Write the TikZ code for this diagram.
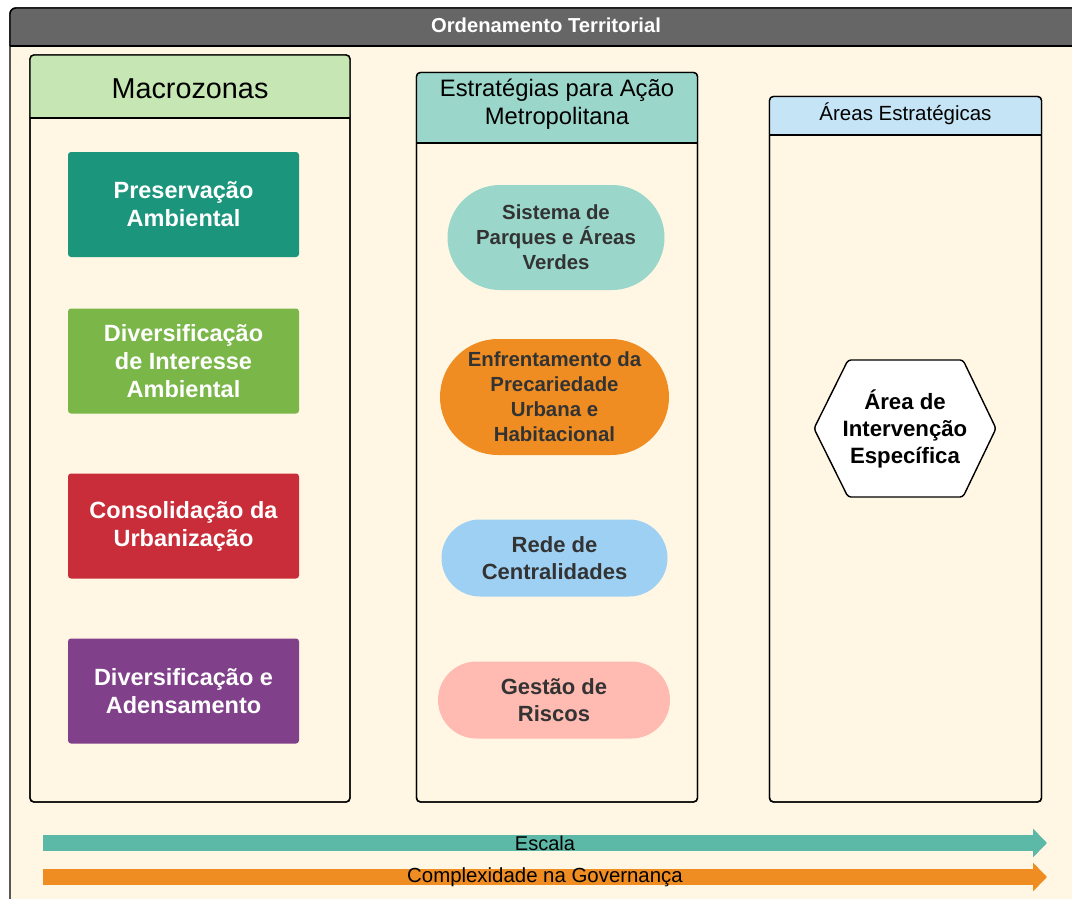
\documentclass[tikz,border=0pt]{standalone}
\usepackage{fontspec}
\setmainfont{Liberation Sans}
\usetikzlibrary{arrows.meta, shapes.misc}

\definecolor{cream}{HTML}{FFF7E3}
\definecolor{titlegray}{HTML}{666666}
\definecolor{headgreen}{HTML}{C6E7B3}
\definecolor{headteal}{HTML}{9BD6CB}
\definecolor{headblue}{HTML}{C5E4F6}
\definecolor{zoneteal}{HTML}{1B957C}
\definecolor{zonelime}{HTML}{7AB648}
\definecolor{zonered}{HTML}{C92D39}
\definecolor{zonepurple}{HTML}{80408A}
\definecolor{stratteal}{HTML}{9BD6CB}
\definecolor{stratorange}{HTML}{EF8D22}
\definecolor{stratblue}{HTML}{9DD0F3}
\definecolor{stratpink}{HTML}{FFBBB1}
\definecolor{arrowteal}{HTML}{5CB9A7}
\definecolor{darktext}{HTML}{333333}

\tikzset{
  colframe/.style = {draw, line width = 1.4, rounded corners = 4},
  zonebox/.style = {rectangle, rounded corners = 3, minimum width = 231,
                    minimum height = 105, text = white, align = center,
                    font = \bfseries\fontsize{23.5}{28}\selectfont},
  stratbox/.style = {rounded rectangle, text = darktext, align = center,
                     inner sep = 0, font = \bfseries\fontsize{20.4}{25}\selectfont},
  scalearrow/.style = {line width = 16, -{Triangle[length = 14, width = 28]}}
}

\begin{document}
\begin{tikzpicture}[x = 1pt, y = -1pt]
\useasboundingbox (0, 0) rectangle (1072, 899);
\fill[white] (0, 0) rectangle (1072, 899);

\draw[colframe, fill = cream, rounded corners = 6] (10, 8) rectangle (1084, 912);
\fill[titlegray, rounded corners = 6] (10, 8) rectangle (1084, 46);
\fill[titlegray] (10, 30) rectangle (1084, 46);
\draw[colframe, rounded corners = 6] (10, 46) -- (10, 8) -- (1084, 8);
\draw[line width = 1.4] (10, 46) -- (1084, 46);
\node[text = white, font = \bfseries\fontsize{20.2}{24}\selectfont] (title) at (546, 25) {Ordenamento Territorial};

\draw[colframe, fill = cream] (30, 55) rectangle (350, 802);
\fill[headgreen, rounded corners = 4] (30, 55) rectangle (350, 118);
\fill[headgreen] (30, 100) rectangle (350, 118);
\draw[colframe] (30, 55) rectangle (350, 802);
\draw[line width = 1.4] (30, 118) -- (350, 118);
\node[font = \fontsize{28.8}{34}\selectfont] (macro) at (190, 89) {Macrozonas};

\node[zonebox, fill = zoneteal] (pres) at (183.5, 204.5) {Preservação\\Ambiental};
\node[zonebox, fill = zonelime] (divint) at (183.5, 361) {Diversificação\\de Interesse\\Ambiental};
\node[zonebox, fill = zonered] (cons) at (183.5, 526) {Consolidação da\\Urbanização};
\node[zonebox, fill = zonepurple] (divad) at (183.5, 691) {Diversificação e\\Adensamento};

\draw[colframe, fill = cream] (416.5, 72.5) rectangle (697.5, 802);
\fill[headteal, rounded corners = 4] (416.5, 72.5) rectangle (697.5, 143);
\fill[headteal] (416.5, 120) rectangle (697.5, 143);
\draw[colframe] (416.5, 72.5) rectangle (697.5, 802);
\draw[line width = 1.4] (416.5, 143) -- (697.5, 143);
\node[align = center, font = \fontsize{23.8}{28}\selectfont] (estrat) at (557, 104) {Estratégias para Ação\\Metropolitana};

\node[stratbox, fill = stratteal, minimum width = 217, minimum height = 105] (parques) at (556, 237.5) {Sistema de\\Parques e Áreas\\Verdes};
\node[stratbox, fill = stratorange, minimum width = 229, minimum height = 116] (precar) at (554.5, 397) {Enfrentamento da\\Precariedade\\Urbana e\\Habitacional};
\node[stratbox, fill = stratblue, minimum width = 226, minimum height = 77, font = \bfseries\fontsize{22}{27}\selectfont] (rede) at (554.5, 558) {Rede de\\Centralidades};
\node[stratbox, fill = stratpink, minimum width = 232, minimum height = 77, font = \bfseries\fontsize{22}{27}\selectfont] (riscos) at (554, 700) {Gestão de\\Riscos};

\draw[colframe, fill = cream] (769.5, 96.5) rectangle (1041.5, 802);
\fill[headblue, rounded corners = 4] (769.5, 96.5) rectangle (1041.5, 135);
\fill[headblue] (769.5, 120) rectangle (1041.5, 135);
\draw[colframe] (769.5, 96.5) rectangle (1041.5, 802);
\draw[line width = 1.4] (769.5, 135) -- (1041.5, 135);
\node[font = \fontsize{20.5}{24}\selectfont] (areas) at (905.5, 114) {Áreas Estratégicas};

\draw[line width = 1.4, fill = white, rounded corners = 3]
  (814, 428.5) -- (848, 360) -- (963, 360) -- (996, 428.5) -- (963, 497) -- (848, 497) -- cycle;
\node[align = center, font = \bfseries\fontsize{22.2}{27}\selectfont] (aie) at (905, 428.5) {Área de\\Intervenção\\Específica};

\coordinate (escA) at (43, 843);
\coordinate (escB) at (1047, 843);
\coordinate (govA) at (43, 877);
\coordinate (govB) at (1047, 877);
\draw[scalearrow, arrowteal] (escA) -- (escB) node[pos = .5, text = black, font = \fontsize{20}{24}\selectfont] (escala) {Escala};
\draw[scalearrow, stratorange] (govA) -- (govB) node[pos = .5, text = black, font = \fontsize{20.4}{24}\selectfont] (gov) {Complexidade na Governança};
\end{tikzpicture}
\end{document}
